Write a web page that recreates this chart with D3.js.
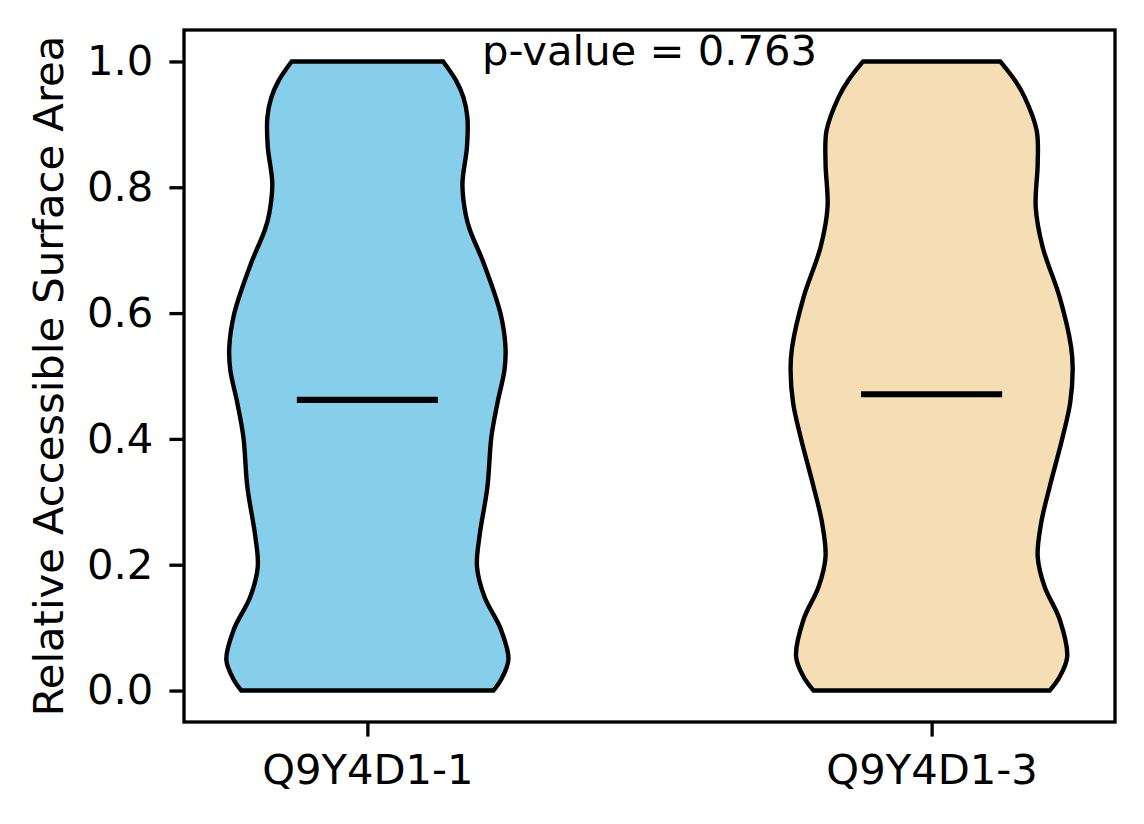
<!DOCTYPE html>
<html>
<head>
<meta charset="utf-8">
<script src="https://d3js.org/d3.v7.min.js"></script>
<style>
  body { margin: 0; background: #fff; }
  text { font-family: "DejaVu Sans", sans-serif; }
</style>
</head>
<body>
<svg id="viz" width="1144" height="824"></svg>
<script>
// categories and their fill colours
var categories = ["Q9Y4D1-1", "Q9Y4D1-3"];
var colors = ["#87CEEB", "#F5DEB3"];

// kernel density outline (value, relative density)
var rsa1 = [0.000, 0.017, 0.049, 0.097, 0.149, 0.197, 0.244, 0.324, 0.403, 0.457, 0.510,
            0.546, 0.600, 0.679, 0.732, 0.759, 0.806, 0.864, 0.911, 0.943, 0.970, 1.000];
var dens1 = [0.894, 0.947, 1.000, 0.947, 0.830, 0.777, 0.794, 0.851, 0.879, 0.922, 0.972,
            0.979, 0.943, 0.825, 0.727, 0.695, 0.674, 0.706, 0.709, 0.681, 0.628, 0.537];

var rsa2 = [0.000, 0.022, 0.054, 0.113, 0.165, 0.213, 0.267, 0.324, 0.403, 0.457, 0.510,
            0.546, 0.625, 0.705, 0.768, 0.838, 0.890, 0.943, 0.970, 1.000];
var dens2 = [0.837, 0.908, 0.961, 0.908, 0.801, 0.752, 0.777, 0.837, 0.929, 0.982, 1.000,
            0.989, 0.908, 0.787, 0.738, 0.752, 0.745, 0.660, 0.590, 0.486];

var means = [0.462, 0.471];
var yTicks = [0.0, 0.2, 0.4, 0.6, 0.8, 1.0];
var pLabel = "p-value = 0.763";

var width = 1144, height = 824;
var margin = {top: 30, right: 29, bottom: 102, left: 184};
var fs = 41.7;

var svg = d3.select("#viz");
var g = svg.append("g").attr("transform", "translate(" + margin.left + "," + margin.top + ")");
var iw = width - margin.left - margin.right;
var ih = height - margin.top - margin.bottom;

// positions 1 and 2 like matplotlib, xlim 0.675..2.325
var x = d3.scaleLinear().domain([0.675, 2.325]).range([0, iw]);
var y = d3.scaleLinear().domain([-0.05, 1.05]).range([ih, 0]);
// half violin width is 0.25 in x units at max density
var w = d3.scaleLinear().domain([0, 1]).range([0, x(1.25) - x(1)]);

var violins = [
  d3.zip(rsa1, dens1),
  d3.zip(rsa2, dens2)
];

violins.forEach(function(pts, i) {
  var cx = x(i + 1);
  var area = d3.area()
      .curve(d3.curveCatmullRom)
      .y(function(d) { return y(d[0]); })
      .x0(function(d) { return cx - w(d[1]); })
      .x1(function(d) { return cx + w(d[1]); });
  g.append("path")
      .datum(pts)
      .attr("d", area)
      .attr("fill", colors[i])
      .attr("stroke", "#000")
      .attr("stroke-width", 4.4)
      .attr("stroke-linejoin", "miter");
  // mean line
  g.append("line")
      .attr("x1", x(i + 1 - 0.125))
      .attr("x2", x(i + 1 + 0.125))
      .attr("y1", y(means[i]))
      .attr("y2", y(means[i]))
      .attr("stroke", "#000")
      .attr("stroke-width", 6.2);
});

// axes
var yAxis = d3.axisLeft(y).tickValues(yTicks).tickFormat(d3.format(".1f"))
    .tickSize(14.6).tickPadding(16);
var xAxis = d3.axisBottom(x).tickValues([1, 2]).tickFormat(function(d) { return categories[d - 1]; })
    .tickSize(14.6).tickPadding(18);

var ya = g.append("g").call(yAxis);
var xa = g.append("g").attr("transform", "translate(0," + ih + ")").call(xAxis);
[ya, xa].forEach(function(a) {
  a.select(".domain").remove();
  a.selectAll(".tick line").attr("stroke", "#000").attr("stroke-width", 3.3);
  a.selectAll(".tick text").attr("fill", "#000")
      .style("font-size", fs + "px").style("font-family", "DejaVu Sans");
});

// frame
g.append("rect")
    .attr("x", 0).attr("y", 0).attr("width", iw).attr("height", ih)
    .attr("fill", "none").attr("stroke", "#000").attr("stroke-width", 3.3);

// y label
svg.append("text")
    .attr("transform", "translate(63," + (margin.top + ih / 2) + ") rotate(-90)")
    .attr("text-anchor", "middle")
    .style("font-size", fs + "px")
    .text("Relative Accessible Surface Area");

// p-value annotation
g.append("text")
    .attr("x", x(1.5))
    .attr("y", y(0.994))
    .attr("text-anchor", "middle")
    .style("font-size", fs + "px")
    .text(pLabel);
</script>
</body>
</html>
